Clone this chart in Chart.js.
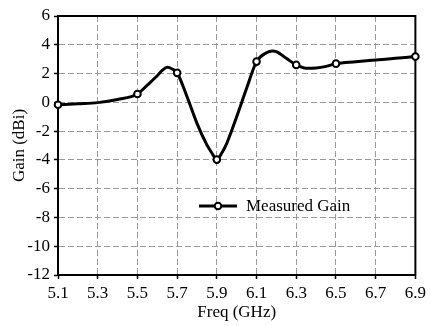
<!DOCTYPE html>
<html>
<head>
<meta charset="utf-8">
<script src="https://cdn.jsdelivr.net/npm/chart.js@4"></script>
<style>
html,body{margin:0;padding:0;background:#fff;}
#wrap{width:430px;height:326px;position:relative;}
</style>
</head>
<body>
<div id="wrap"><canvas id="c" width="430" height="326"></canvas></div>
<script>
// measured points (markers)
const freqs = [5.1, 5.5, 5.7, 5.9, 6.1, 6.3, 6.5, 6.9];
const gain = [-0.17, 0.58, 2.05, -3.98, 2.83, 2.6, 2.69, 3.18];
// smooth curve
const curveFreq = [5.1, 5.2, 5.3, 5.4, 5.5, 5.55, 5.6, 5.625, 5.65, 5.675, 5.7, 5.75, 5.8, 5.85, 5.875, 5.9, 5.925, 5.95, 6.0, 6.05, 6.1, 6.15, 6.18, 6.2, 6.25, 6.3, 6.35, 6.4, 6.45, 6.5, 6.6, 6.7, 6.8, 6.9];
const curveGain = [-0.17, -0.1, -0.02, 0.2, 0.58, 1.2, 1.85, 2.22, 2.43, 2.32, 2.05, 0.39, -1.46, -2.96, -3.52, -3.98, -3.52, -2.85, -1.0, 0.98, 2.83, 3.45, 3.57, 3.52, 3.06, 2.6, 2.37, 2.39, 2.5, 2.69, 2.82, 2.94, 3.06, 3.18];
const xTicks = [5.1, 5.3, 5.5, 5.7, 5.9, 6.1, 6.3, 6.5, 6.7, 6.9];
const yTicks = [-12, -10, -8, -6, -4, -2, 0, 2, 4, 6];
const seriesLabel = 'Measured Gain';
const xTitle = 'Freq (GHz)';
const yTitle = 'Gain (dBi)';

const FONT = 'Liberation Serif';

const framePlugin = {
  id: 'frame',
  beforeDatasetsDraw(chart) {
    const {ctx, chartArea: a} = chart;
    ctx.save();
    ctx.strokeStyle = '#000';
    ctx.lineWidth = 2;
    ctx.strokeRect(a.left, a.top, a.right - a.left, a.bottom - a.top);
    ctx.restore();
  },
  afterDraw(chart) {
    const {ctx} = chart;
    const ds = chart.data.datasets[1];
    const x1 = 199, x2 = 237, y = 206;
    ctx.save();
    ctx.strokeStyle = '#000';
    ctx.lineWidth = 3;
    ctx.beginPath(); ctx.moveTo(x1, y); ctx.lineTo(x2, y); ctx.stroke();
    ctx.beginPath(); ctx.arc(218, y, 3.3, 0, Math.PI * 2);
    ctx.fillStyle = '#fff'; ctx.fill();
    ctx.lineWidth = 2; ctx.stroke();
    ctx.fillStyle = '#000';
    ctx.font = '17px "' + FONT + '"';
    ctx.textBaseline = 'middle';
    ctx.fillText(ds.label, 246, y + 1);
    ctx.restore();
  }
};

new Chart(document.getElementById('c'), {
  type: 'scatter',
  data: {
    datasets: [{
      label: 'curve',
      data: curveFreq.map((f, i) => ({x: f, y: curveGain[i]})),
      showLine: true,
      cubicInterpolationMode: 'monotone',
      borderColor: '#000',
      borderWidth: 3,
      pointRadius: 0,
      clip: false,
      order: 2
    }, {
      label: seriesLabel,
      data: freqs.map((f, i) => ({x: f, y: gain[i]})),
      showLine: false,
      pointRadius: 3.3,
      pointBackgroundColor: '#fff',
      pointBorderColor: '#000',
      pointBorderWidth: 2,
      clip: false,
      order: 1
    }]
  },
  options: {
    responsive: false,
    animation: false,
    devicePixelRatio: 1,
    layout: {padding: {top: 16, right: 13, left: 0, bottom: 0}},
    plugins: {legend: {display: false}, tooltip: {enabled: false}},
    scales: {
      x: {
        type: 'linear', min: 5.1, max: 6.9,
        afterBuildTicks: s => { s.ticks = xTicks.map(v => ({value: v})); },
        afterFit: s => { s.height = 51; },
        ticks: {
          color: '#000', font: {family: FONT, size: 17}, padding: 4,
          maxRotation: 0, autoSkip: false,
          callback: v => v.toFixed(1)
        },
        grid: {color: '#9a9a9a', lineWidth: 1, tickLength: 4, tickColor: '#000', tickWidth: 1.5},
        border: {color: '#000', width: 2, dash: [6, 3]},
        title: {display: true, text: xTitle, color: '#000', font: {family: FONT, size: 17}, padding: {top: 0, bottom: 3}}
      },
      y: {
        min: -12, max: 6,
        afterBuildTicks: s => { s.ticks = yTicks.map(v => ({value: v})); },
        afterFit: s => { s.width = 58; },
        ticks: {color: '#000', font: {family: FONT, size: 17}, padding: 4},
        grid: {color: '#9a9a9a', lineWidth: 1, tickLength: 4, tickColor: '#000', tickWidth: 1.5},
        border: {color: '#000', width: 2, dash: [6, 3]},
        title: {display: true, text: yTitle, color: '#000', font: {family: FONT, size: 17}, padding: {top: 9, bottom: 0}}
      }
    }
  },
  plugins: [framePlugin]
});
</script>
</body>
</html>
